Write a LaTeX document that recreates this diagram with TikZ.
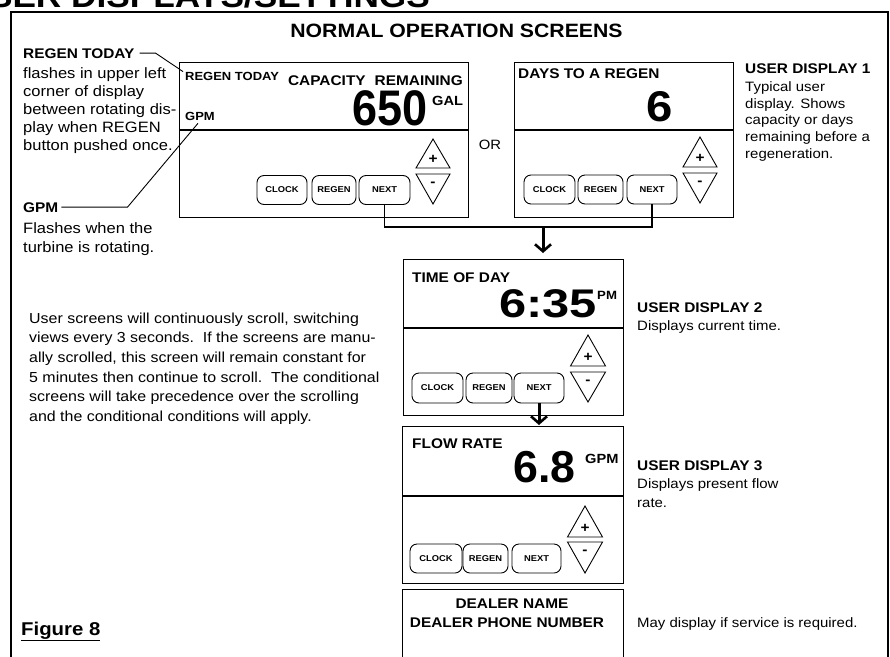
\documentclass[tikz,border=0pt]{standalone}
\usepackage{graphicx}
\usepackage{fontspec}
\setmainfont{Liberation Sans}[FakeStretch=1.1]
\newfontfamily\digfont{Liberation Sans}
\usetikzlibrary{arrows.meta}
\newcommand\setfs[2]{\fontsize{#1}{#2}\selectfont}
\tikzset{
  panel/.style={draw, line width=1.2pt, inner sep=0, anchor=north west},
  divline/.style={line width=1.2pt},
  btn/.style={draw, line width=0.9pt, rounded corners=7pt, inner sep=0, minimum height=29pt, font=\bfseries\setfs{8.5}{10}},
  lbl/.style={inner sep=0, anchor=base west, font=\bfseries\setfs{14}{16}},
  small/.style={inner sep=0, anchor=base west, font=\bfseries\setfs{11.8}{13}},
  bodyL/.style={inner sep=0, align=left, anchor=north west, font=\setfs{15}{18}},
  bodyR/.style={inner sep=0, align=left, font=\setfs{13.6}{16.8}},
  para/.style={inner sep=0, align=left, anchor=north west, font=\setfs{14.5}{19.6}},
  big/.style={inner sep=0, font=\digfont\bfseries\setfs{#1}{#1}},
  conn/.style={line width=1.2pt},
  lead/.style={line width=0.9pt},
  bigarrow/.style={line width=3pt, -{Straight Barb[length=7pt,width=16pt,line width=2.6pt]}},
  keyline/.style={line width=0.9pt, line join=miter},
  keysym/.style={inner sep=0, font=\bfseries\setfs{14}{14}},
}
\newcommand\udkeys[7]{%
  \draw[keyline] (#1,#2) -- (#1+#6,#3) -- (#1-#6,#3) -- cycle;
  \draw[keyline] (#1-#6,#4) -- (#1+#6,#4) -- (#1,#5) -- cycle;
  \node[keysym] (#7plus) at (#1,#3-9) {+};
  \node[keysym] (#7minus) at (#1,#4+10) {-};
}
\begin{document}
\begin{tikzpicture}[x=1pt,y=-1pt]
\useasboundingbox (0,0) rectangle (890,656);
\clip (0,0) rectangle (890,656);

% clipped page title
\node[inner sep=0, anchor=base east, font=\bfseries\setfs{32}{36}] (title) at (430,7) {USER DISPLAYS/SETTINGS};

% frame
\draw[line width=2.4pt] (11,700) -- (11,12) -- (888,12) -- (888,700);

\node[inner sep=0, anchor=base, font=\bfseries\setfs{19.3}{22}] (hdr) at (456.5,37) {NORMAL OPERATION SCREENS};

% ---------- panel 1 ----------
\node[panel, minimum width=289pt, minimum height=155pt] (p1) at (179,62) {};
\draw[divline] (179,130) -- (468,130);
\node[small] (rt) at (185,80) {REGEN TODAY};
\node[small] (gpmb) at (185,120) {GPM};
\node[lbl, anchor=base east] (cap) at (463,85) {CAPACITY\hspace{9pt}REMAINING};
\node[big=50, anchor=base east] (n650) at (428,125.5) {\scalebox{0.9}[1]{650}};
\node[small, font=\bfseries\setfs{13.3}{14}] (gal) at (432,105) {GAL};
\node[btn, minimum width=50pt] (b1c) at (282,190) {CLOCK};
\node[btn, minimum width=44pt] (b1r) at (334,190) {REGEN};
\node[btn, minimum width=51pt] (b1n) at (384.5,190) {NEXT};
\udkeys{433}{139}{168}{174}{204}{17}{k1}

\node[inner sep=0, font=\setfs{13.5}{15}] (or) at (490,145) {OR};

% ---------- panel 2 ----------
\node[panel, minimum width=219pt, minimum height=155pt] (p2) at (514,62) {};
\draw[divline] (514,130) -- (733,130);
\node[lbl] (days) at (518,78) {DAYS TO A REGEN};
\node[big=43, anchor=base] (n6) at (660,121) {\scalebox{1.1}[1]{6}};
\node[btn, minimum width=51pt] (b2c) at (549.5,189.5) {CLOCK};
\node[btn, minimum width=45pt] (b2r) at (600.5,189.5) {REGEN};
\node[btn, minimum width=50pt] (b2n) at (652,189.5) {NEXT};
\udkeys{700}{137}{167}{173}{203}{17}{k2}

% ---------- panel 3 ----------
\node[panel, minimum width=220pt, minimum height=156pt] (p3) at (403,259) {};
\draw[divline] (403,328) -- (623,328);
\node[lbl] (tod) at (412,282) {TIME OF DAY};
\node[big=40, anchor=base west] (n635) at (499,317.5) {\scalebox{1.22}[1]{6:35}};
\node[small, font=\bfseries\setfs{12}{13}] (pm) at (597,299) {PM};
\node[btn, minimum width=51pt, minimum height=30pt] (b3c) at (437.5,388) {CLOCK};
\node[btn, minimum width=46pt, minimum height=30pt] (b3r) at (489,388) {REGEN};
\node[btn, minimum width=50pt, minimum height=30pt] (b3n) at (539,388) {NEXT};
\udkeys{588}{335}{366}{372}{402}{17.5}{k3}

% ---------- panel 4 ----------
\node[panel, minimum width=221pt, minimum height=157pt] (p4) at (402,426) {};
\draw[divline] (402,496) -- (623,496);
\node[lbl] (flow) at (412,448) {FLOW RATE};
\node[big=44.7, anchor=base west] (n68) at (513,482) {6.8};
\node[small, font=\bfseries\setfs{13.3}{14}] (gpm4) at (585,463) {GPM};
\node[btn, minimum width=52pt] (b4c) at (436,558.5) {CLOCK};
\node[btn, minimum width=45pt] (b4r) at (485.5,558.5) {REGEN};
\node[btn, minimum width=49pt] (b4n) at (536.5,558.5) {NEXT};
\udkeys{585}{506}{537}{542}{573}{17.5}{k4}

% ---------- panel 5 ----------
\node[panel, minimum width=221pt, minimum height=120pt] (p5) at (402,589) {};
\node[lbl, anchor=base] (dname) at (512,608) {DEALER NAME};
\node[lbl, anchor=base] (dphone) at (507,627) {DEALER PHONE NUMBER};

% ---------- connectors ----------
\coordinate (join) at (543,227);
\draw[conn] (b1n.south) |- (join) -| (b2n.south);
\draw[bigarrow, shorten >=6pt] (join) -- (join |- p3.north);
\draw[bigarrow, shorten >=1pt] (b3n.south) -- (b3n.south |- p4.north);

% ---------- left annotations ----------
\node[lbl] (rthd) at (23,58) {REGEN TODAY};
\node[bodyL] (rtbody) at (23,67.4) {flashes in upper left\\corner of display\\between rotating dis-\\play when REGEN\\button pushed once.};
\draw[lead] ([xshift=5pt]rthd.east) -- ++(16,0) -- ([xshift=-2pt]rt.north west);

\node[lbl] (gpmhd) at (23,212) {GPM};
\node[bodyL, font=\setfs{15}{19}] (gpmbody) at (23,222.4) {Flashes when the\\turbine is rotating.};
\draw[lead] ([xshift=3pt]gpmhd.east) -- ++(66,0) -- ([xshift=-2pt,yshift=-3pt]gpmb.south);

\node[para] (para) at (29,312.6) {User screens will continuously scroll, switching\\views every 3 seconds.\ \ If the screens are manu-\\ally scrolled, this screen will remain constant for\\5 minutes then continue to scroll.\ \ The conditional\\screens will take precedence over the scrolling\\and the conditional conditions will apply.};

% ---------- right annotations ----------
\node[lbl] (ud1) at (745,73) {USER DISPLAY 1};
\node[bodyR, anchor=north west] (ud1b) at (745,81.3) {Typical user\\display. Shows\\capacity or days\\remaining before a\\regeneration.};
\node[lbl] (ud2) at (637,312) {USER DISPLAY 2};
\node[bodyR, anchor=base west] (ud2b) at (637,330) {Displays current time.};
\node[lbl] (ud3) at (637,470) {USER DISPLAY 3};
\node[bodyR, anchor=north west, font=\setfs{13.6}{19}] (ud3b) at (637,478.3) {Displays present flow\\rate.};
\node[bodyR, anchor=base west] (may) at (637,627) {May display if service is required.};

\node[inner sep=0, anchor=base west, font=\bfseries\setfs{18.5}{20}] (fig) at (21,635) {\underline{Figure 8}};
\end{tikzpicture}
\end{document}
